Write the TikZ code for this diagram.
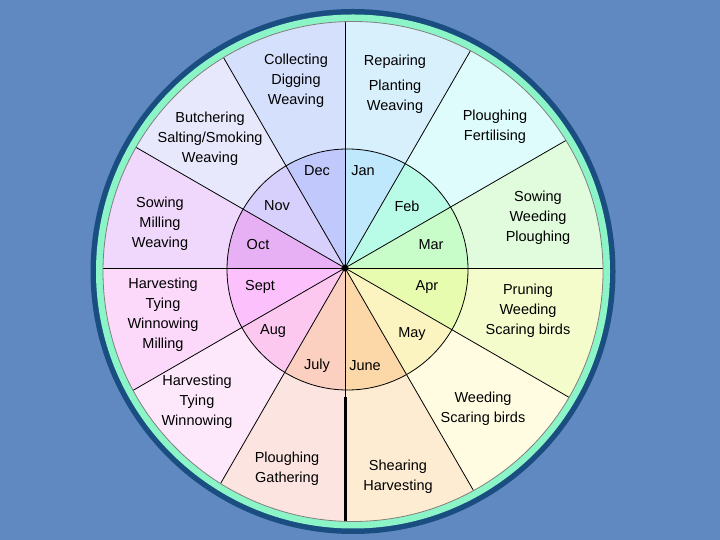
\documentclass[tikz,border=0pt]{standalone}
\usepackage{fontspec}
\setmainfont{Liberation Sans}
\definecolor{bg}{HTML}{6089C2}
\definecolor{ringdark}{HTML}{1A4E80}
\definecolor{ringteal}{HTML}{8CF5C8}
% outer sectors
\definecolor{oA}{HTML}{D8F0FC}
\definecolor{oB}{HTML}{DEFCFC}
\definecolor{oC}{HTML}{E0FCDC}
\definecolor{oD}{HTML}{F4FCCC}
\definecolor{oE}{HTML}{FFFCE2}
\definecolor{oF}{HTML}{FDECD2}
\definecolor{oG}{HTML}{FCE4E0}
\definecolor{oH}{HTML}{FCE8FA}
\definecolor{oI}{HTML}{FCD8FA}
\definecolor{oJ}{HTML}{F0D8FC}
\definecolor{oK}{HTML}{E8E8FC}
\definecolor{oL}{HTML}{D4E0FC}
% month sectors
\definecolor{mA}{HTML}{BFE8FC}
\definecolor{mB}{HTML}{B8FCE8}
\definecolor{mC}{HTML}{C8FCC8}
\definecolor{mD}{HTML}{E8FCB0}
\definecolor{mE}{HTML}{FCF4C0}
\definecolor{mF}{HTML}{FCD8A8}
\definecolor{mG}{HTML}{FCD0C0}
\definecolor{mH}{HTML}{FCC8F0}
\definecolor{mI}{HTML}{FCC0FC}
\definecolor{mJ}{HTML}{E8B0F4}
\definecolor{mK}{HTML}{D8D0FC}
\definecolor{mL}{HTML}{C0C8FC}
\begin{document}
\begin{tikzpicture}[x=1pt,y=1pt,
  lbl/.style={align=center,inner sep=0pt,font=\fontsize{14.5}{20}\selectfont,text=black},
  spoke/.style={line width=0.8pt,black}]
\fill[bg] (0,0) rectangle (720,540);
\useasboundingbox (0,0) rectangle (720,540);
\coordinate (D) at (353,268.5);
\coordinate (C) at (345,272);
\coordinate (I) at (347.5,270.5);
% rings
\fill[ringdark] (D) circle (262.5);
\fill[ringteal] (D) circle (257);
% disc sectors
\begin{scope}
\clip (D) circle (250);
\foreach \a/\oc in {60/oA,30/oB,0/oC,-30/oD,-60/oE,-90/oF,-120/oG,-150/oH,-180/oI,150/oJ,120/oK,90/oL}{
  \fill[\oc] (C) -- ++(\a:400) arc[start angle=\a, delta angle=30, radius=400] -- cycle;
}
\begin{scope}
\clip (I) circle (120.5);
\foreach \a/\mc in {60/mA,30/mB,0/mC,-30/mD,-60/mE,-90/mF,-120/mG,-150/mH,-180/mI,150/mJ,120/mK,90/mL}{
  \fill[\mc] (C) -- ++(\a:400) arc[start angle=\a, delta angle=30, radius=400] -- cycle;
}
\end{scope}
\foreach \a in {0,30,...,330}{
  \draw[spoke] (C) -- ++(\a:400);
}
\draw[line width=3pt,black] (345,143) -- (345,0);
\end{scope}
\draw[gray,line width=0.8pt] (D) circle (250);
\draw[spoke] (I) circle (120.5);
\fill[black] (C) circle (3.5);
% outer labels
\node[lbl] (collect) at (296,459) {Collecting\\Digging\\Weaving};
\node[lbl] (repair) at (395,455.5) {Repairing\\[5pt]Planting\\Weaving};
\node[lbl] (ploughA) at (495,413.5) {Ploughing\\Fertilising};
\node[lbl] (sowA) at (538,322) {Sowing\\Weeding\\Ploughing};
\node[lbl] (prune) at (528,229) {Pruning\\Weeding\\Scaring birds};
\node[lbl] (weed) at (483,131.5) {Weeding\\Scaring birds};
\node[lbl] (shear) at (398,63) {Shearing\\Harvesting};
\node[lbl] (gather) at (287,71) {Ploughing\\Gathering};
\node[lbl] (harvA) at (197,138) {Harvesting\\Tying\\Winnowing};
\node[lbl] (harvB) at (163,225.5) {Harvesting\\Tying\\Winnowing\\Milling};
\node[lbl] (sowB) at (160,316) {Sowing\\Milling\\Weaving};
\node[lbl] (butch) at (210,401) {Butchering\\Salting/Smoking\\Weaving};
% months
\node[lbl] (dec) at (317,369) {Dec};
\node[lbl] (jan) at (363,369) {Jan};
\node[lbl] (feb) at (407,334) {Feb};
\node[lbl] (nov) at (277,334) {Nov};
\node[lbl] (oct) at (258,295) {Oct};
\node[lbl] (mar) at (431,295) {Mar};
\node[lbl] (sept) at (260,253) {Sept};
\node[lbl] (apr) at (427,253) {Apr};
\node[lbl] (aug) at (273,209) {Aug};
\node[lbl] (may) at (412,206) {May};
\node[lbl] (july) at (317,174) {July};
\node[lbl] (june) at (365,174) {June};
\end{tikzpicture}
\end{document}
